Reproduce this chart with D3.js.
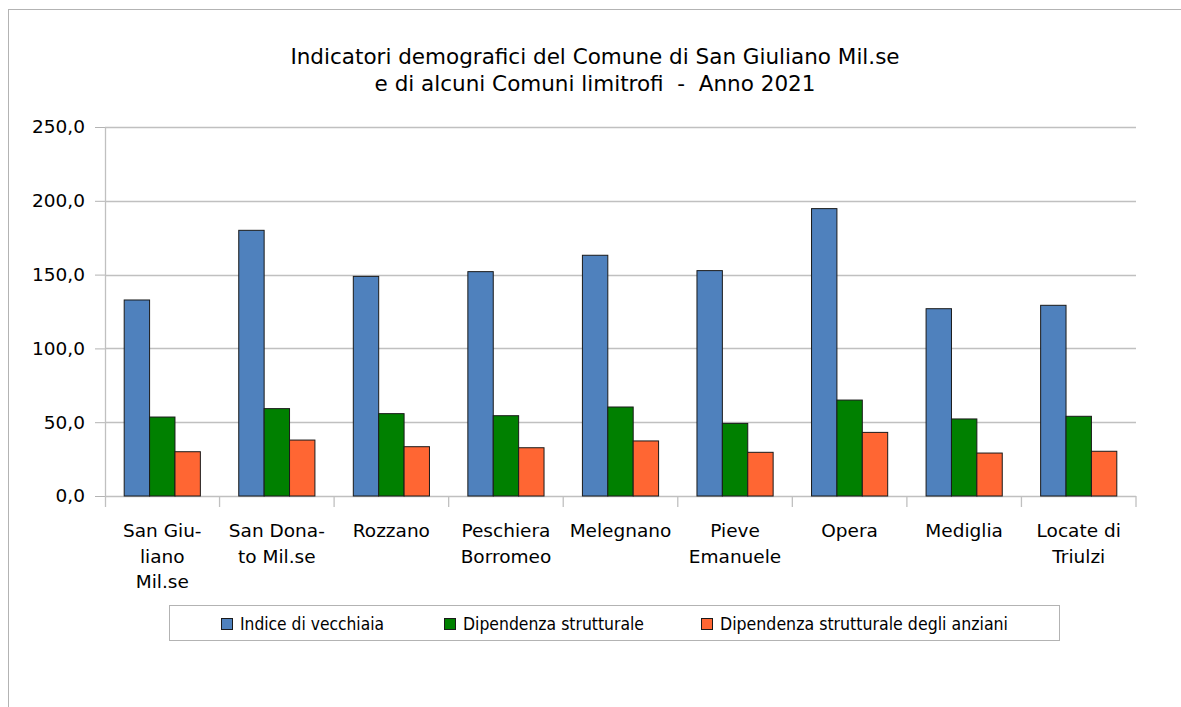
<!DOCTYPE html>
<html>
<head>
    <meta charset="utf-8">
    <style>
        body { margin: 0; background: #fff; }
        svg { font-family: 'DejaVu Sans', Verdana, sans-serif; }
    </style>
</head>
<body>
    <svg width="1181" height="707"></svg>

<script src="https://d3js.org/d3.v7.min.js"></script>
<script>
    // data
    let comuni = ["San Giuliano Mil.se", "San Donato Mil.se", "Rozzano", "Peschiera Borromeo",
        "Melegnano", "Pieve Emanuele", "Opera", "Mediglia", "Locate di Triulzi"]
    let comuniLabels = [
        ["San Giu-", "liano", "Mil.se"], ["San Dona-", "to Mil.se"], ["Rozzano"],
        ["Peschiera", "Borromeo"], ["Melegnano"], ["Pieve", "Emanuele"], ["Opera"],
        ["Mediglia"], ["Locate di", "Triulzi"]
    ]
    let seriesNames = ["Indice di vecchiaia", "Dipendenza strutturale", "Dipendenza strutturale degli anziani"]
    let indiceVecchiaia = [132.8, 180.0, 148.8, 152.0, 163.1, 152.7, 194.7, 126.9, 129.2]
    let dipStrutturale = [53.5, 59.2, 55.8, 54.4, 60.3, 49.2, 65.0, 52.2, 54.0]
    let dipAnziani = [30.0, 37.9, 33.4, 32.7, 37.3, 29.6, 43.1, 29.1, 30.3]
    let yTicks = [0, 50, 100, 150, 200, 250]
    let colors = ["#4f81bd", "#008000", "#ff6633"]

    let allSeries = [indiceVecchiaia, dipStrutturale, dipAnziani]

    let svg = d3.select("svg")

    // outer chart frame
    svg.append("rect")
        .attr("x", 8.5).attr("y", 9.5)
        .attr("width", 1250).attr("height", 800)
        .style("fill", "white")
        .style("stroke", "#b3b3b3")

    let plotL = 105, plotR = 1136, plotT = 127, plotB = 496

    let x0 = d3.scaleBand().domain(comuni).range([plotL, plotR])
    let x1 = d3.scaleBand().domain(seriesNames).range([0, x0.bandwidth()]).paddingOuter(0.756)
    let y = d3.scaleLinear().domain([0, 250]).range([plotB, plotT])

    // title
    let title = svg.append("text")
        .attr("x", 595).attr("y", 64)
        .attr("text-anchor", "middle")
        .style("font-size", "21.5px")
        .style("white-space", "pre")
        .style("fill", "#000")
    title.append("tspan").attr("x", 595).text("Indicatori demografici del Comune di San Giuliano Mil.se")
    title.append("tspan").attr("x", 595).attr("dy", 27).text("e di alcuni Comuni limitrofi  -  Anno 2021")

    // y axis + grid
    let yAxis = svg.append("g")
        .attr("transform", `translate(${plotL},0)`)
        .call(d3.axisLeft(y).tickValues(yTicks).tickSize(10)
            .tickFormat(d => d3.format(".1f")(d).replace(".", ",")))
    yAxis.select(".domain").remove()
    yAxis.selectAll(".tick line").style("stroke", "#b3b3b3")
    yAxis.selectAll(".tick text")
        .attr("x", -20)
        .style("font-size", "18.5px")
        .style("font-family", "'DejaVu Sans', sans-serif")
        .style("fill", "#000")

    svg.append("g")
        .selectAll("line")
        .data(yTicks)
        .join("line")
        .attr("x1", plotL).attr("x2", plotR)
        .attr("y1", d => Math.round(y(d)) + 0.5)
        .attr("y2", d => Math.round(y(d)) + 0.5)
        .style("stroke", "#c0c0c0")
        .style("stroke-width", 1.3)

    // left axis line
    svg.append("line")
        .attr("x1", plotL + 0.5).attr("x2", plotL + 0.5)
        .attr("y1", plotT).attr("y2", plotB + 11)
        .style("stroke", "#c0c0c0")
        .style("stroke-width", 1.3)

    // category boundary ticks
    svg.append("g")
        .selectAll("line")
        .data(comuni.slice(1).concat(["end"]))
        .join("line")
        .attr("x1", d => d == "end" ? plotR : x0(d))
        .attr("x2", d => d == "end" ? plotR : x0(d))
        .attr("y1", plotB).attr("y2", plotB + 11)
        .style("stroke", "#c0c0c0")
        .style("stroke-width", 1.3)

    // bars
    let groups = svg.append("g")
        .selectAll("g")
        .data(comuni)
        .join("g")
        .attr("transform", d => `translate(${x0(d)},0)`)

    groups.selectAll("rect")
        .data((d, i) => allSeries.map((s, j) => ({ name: seriesNames[j], value: s[i], k: j })))
        .join("rect")
        .attr("x", d => x1(d.name))
        .attr("y", d => y(d.value))
        .attr("width", x1.bandwidth())
        .attr("height", d => plotB - y(d.value))
        .style("fill", d => colors[d.k])
        .style("stroke", "#1a1a1a")
        .style("stroke-width", 1)

    // category labels
    let labels = svg.append("g")
        .selectAll("text")
        .data(comuni)
        .join("text")
        .attr("text-anchor", "middle")
        .attr("y", 537)
        .style("font-size", "18.5px")
        .style("fill", "#000")

    labels.selectAll("tspan")
        .data((d, i) => comuniLabels[i].map(t => ({ t, c: d })))
        .join("tspan")
        .attr("x", d => x0(d.c) + x0.bandwidth() / 2)
        .attr("dy", (d, i) => i == 0 ? 0 : 25.5)
        .text(d => d.t)

    // legend
    let legend = svg.append("g")
    legend.append("rect")
        .attr("x", 169.5).attr("y", 605.5)
        .attr("width", 890).attr("height", 35)
        .style("fill", "white")
        .style("stroke", "#b3b3b3")

    let legendX = [221, 444, 701]
    let legendW = [144, 181, 288]

    let items = legend.selectAll(".item")
        .data(seriesNames)
        .join("g")
        .attr("class", "item")
        .attr("transform", (d, i) => `translate(${legendX[i]},0)`)

    items.append("rect")
        .attr("x", 0.5).attr("y", 618.5)
        .attr("width", 11).attr("height", 11)
        .style("fill", (d, i) => colors[i])
        .style("stroke", "#1a1a1a")

    items.append("text")
        .attr("x", 19).attr("y", 630)
        .attr("textLength", (d, i) => legendW[i])
        .attr("lengthAdjust", "spacingAndGlyphs")
        .style("font-size", "17px")
        .style("fill", "#000")
        .text(d => d)
</script>
</body>
</html>
